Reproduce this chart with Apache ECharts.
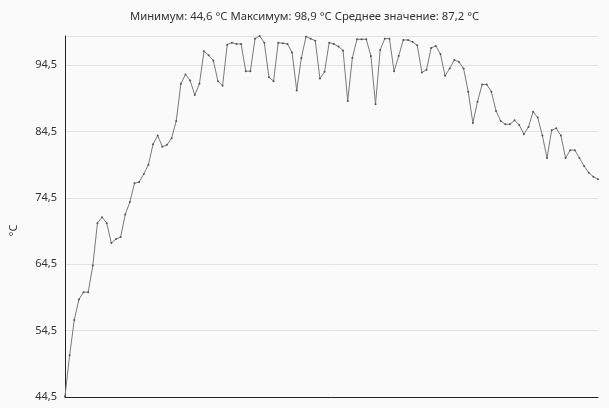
<!DOCTYPE html>
<html>
<head>
<meta charset="utf-8">
<script src="https://cdn.jsdelivr.net/npm/echarts@6/dist/echarts.min.js"></script>
<style>
html, body { margin: 0; padding: 0; background: #fafafa; }
#chart { width: 609px; height: 408px; }
</style>
</head>
<body>
<div id="chart"></div>
<script>
// temperature readings, one per step
var temps = [
    44.6, 50.8, 56.1, 59.2, 60.3, 60.3, 64.3, 70.7, 71.6, 70.7,
    67.7, 68.3, 68.6, 72.0, 73.9, 76.7, 76.9, 78.1, 79.5, 82.6,
    83.9, 82.2, 82.5, 83.5, 86.1, 91.7, 93.1, 92.2, 90.0, 91.7,
    96.6, 96.0, 95.2, 92.1, 91.4, 97.6, 97.9, 97.7, 97.7, 93.6,
    93.6, 98.5, 98.9, 97.9, 92.7, 92.1, 97.9, 97.8, 97.7, 96.4,
    90.7, 95.6, 98.8, 98.5, 98.2, 92.5, 93.5, 97.9, 97.7, 97.3,
    96.7, 89.1, 95.6, 98.4, 98.4, 98.4, 95.9, 88.6, 96.8, 98.5,
    98.5, 93.6, 95.9, 98.3, 98.3, 98.0, 97.5, 93.4, 93.8, 97.1,
    97.4, 96.2, 92.9, 94.0, 95.3, 95.0, 94.0, 90.5, 85.8, 89.0,
    91.6, 91.6, 90.5, 87.6, 86.1, 85.6, 85.6, 86.2, 85.5, 84.1,
    85.2, 87.5, 86.6, 83.9, 80.5, 84.7, 85.0, 83.9, 80.5, 81.7,
    81.7, 80.5, 79.3, 78.3, 77.7, 77.3
]
var steps = temps.map(function (v, i) { return i + 1 })
var titleText = 'Минимум: 44,6 °C Максимум: 98,9 °C Среднее значение: 87,2 °C'
var yMin = 44.5
var yMax = 98.9
var yStep = 10

var chart = echarts.init(document.getElementById('chart'))
var option = {
    backgroundColor: '#fafafa',
    animation: false,
    title: {
        text: titleText,
        left: 'center',
        top: 6,
        textStyle: {
            fontFamily: 'Noto Sans',
            fontSize: 11.3,
            fontWeight: 'normal',
            color: '#333333'
        }
    },
    grid: {
        left: 62,
        right: 11,
        top: 36,
        bottom: 11
    },
    xAxis: {
        type: 'category',
        data: steps,
        boundaryGap: false,
        axisLine: { lineStyle: { color: '#222222', width: 1 } },
        axisTick: { show: false },
        axisLabel: { show: false },
        splitLine: { show: false }
    },
    yAxis: {
        type: 'value',
        min: yMin,
        max: yMax,
        interval: yStep,
        name: '°C',
        nameLocation: 'middle',
        nameRotate: 90,
        nameGap: 46,
        // push the unit a bit below the middle, as in the original
        nameTextStyle: { fontFamily: 'Noto Sans', fontSize: 11, color: '#333333', padding: [0, 28, 0, 0] },
        axisLine: { show: true, lineStyle: { color: '#222222', width: 1 } },
        axisTick: { show: false },
        axisLabel: {
            fontFamily: 'Noto Sans',
            fontSize: 11,
            color: '#333333',
            margin: 8,
            showMaxLabel: false,
            formatter: function (v) { return v.toFixed(1).replace('.', ',') }
        },
        splitLine: { show: true, lineStyle: { color: '#e2e2e2', width: 1 } }
    },
    series: [{
        type: 'line',
        data: temps,
        symbol: 'circle',
        symbolSize: 2,
        showSymbol: true,
        itemStyle: { color: '#555555' },
        lineStyle: { color: '#7a7a7a', width: 1 }
    }]
}
chart.setOption(option)
</script>
</body>
</html>
